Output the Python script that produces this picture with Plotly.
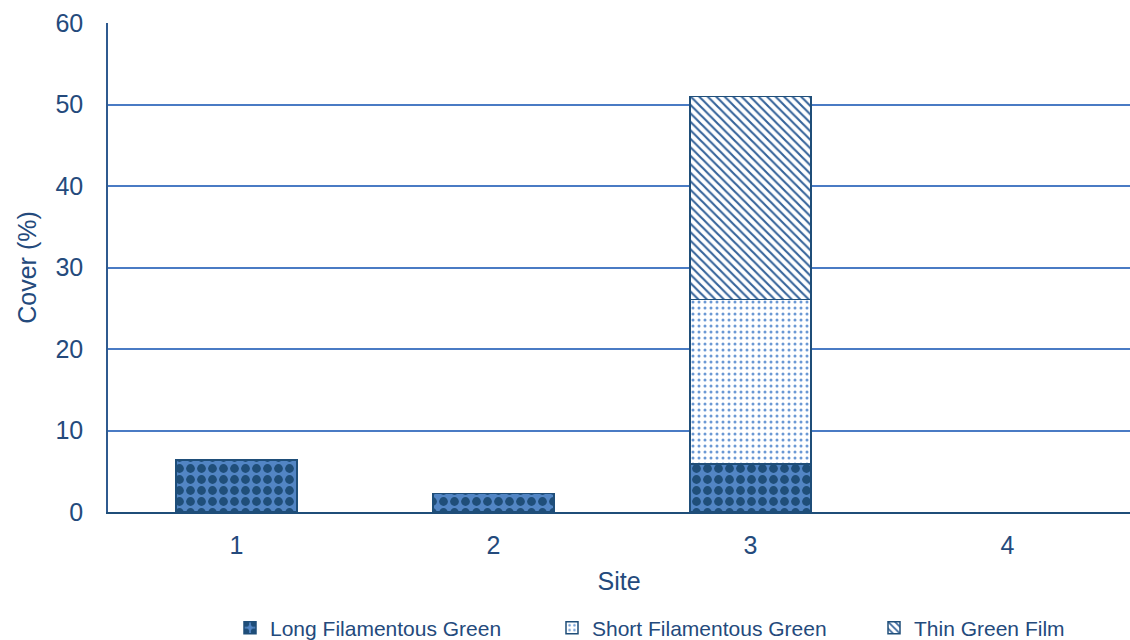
import plotly.graph_objects as go

# Algal cover by site (%)
sites = ["1", "2", "3", "4"]
long_filamentous = [6.4, 2.3, 5.9, None]
short_filamentous = [None, None, 20.2, None]
thin_green_film = [None, None, 24.9, None]

y_ticks = [0, 10, 20, 30, 40, 50, 60]

NAVY = "#1F4E79"
TEXT = "#244A7C"
GRID = "#4A7BC4"
FONT = "Liberation Sans, Arial, sans-serif"

fig = go.Figure()

fig.add_trace(go.Bar(
    name="Long Filamentous Green",
    x=sites, y=long_filamentous,
    marker=dict(
        color="#4F81BD",
        line=dict(color=NAVY, width=1.5),
        pattern=dict(shape=".", fgcolor=NAVY, bgcolor="#5285C4",
                     size=11, solidity=0.5, fillmode="replace"),
    ),
))
fig.add_trace(go.Bar(
    name="Short Filamentous Green",
    x=sites, y=short_filamentous,
    marker=dict(
        color="white",
        line=dict(color=NAVY, width=1.5),
        pattern=dict(shape=".", fgcolor="#6A98D4", bgcolor="white",
                     size=6, solidity=0.2, fillmode="replace"),
    ),
))
fig.add_trace(go.Bar(
    name="Thin Green Film",
    x=sites, y=thin_green_film,
    marker=dict(
        color="white",
        line=dict(color=NAVY, width=1.5),
        pattern=dict(shape="\\", fgcolor="#35639A", bgcolor="white",
                     size=6, solidity=0.35, fillmode="replace"),
    ),
))

fig.update_layout(
    width=1130, height=640,
    barmode="stack",
    bargap=0.53,
    plot_bgcolor="white",
    paper_bgcolor="white",
    margin=dict(l=108, r=0, t=23, b=128),
    font=dict(family=FONT, color=TEXT, size=25),
    showlegend=True,
    legend=dict(
        orientation="h",
        xref="container", x=230 / 1130, xanchor="left",
        yref="container", y=12 / 640, yanchor="middle",
        font=dict(size=21, color=TEXT),
        itemwidth=30,
        entrywidth=277,
        entrywidthmode="pixels",
        traceorder="normal",
        bgcolor="rgba(0,0,0,0)",
    ),
    xaxis=dict(
        type="category",
        range=[-0.5, 3.477],
        showgrid=False,
        showline=True, linecolor=NAVY, linewidth=2,
        ticks="",
        ticklabelstandoff=10,
        tickfont=dict(size=25, color=TEXT),
        title=dict(text="Site", font=dict(size=25, color=TEXT), standoff=14),
        fixedrange=True,
    ),
    yaxis=dict(
        range=[0, 60],
        tickvals=y_ticks,
        showgrid=True, gridcolor=GRID, gridwidth=1.5,
        showline=True, linecolor="#2F5A8F", linewidth=1.5,
        zeroline=False,
        ticks="",
        ticklabelstandoff=18,
        tickfont=dict(size=25, color=TEXT),
        title=dict(text="Cover (%)", font=dict(size=25, color=TEXT), standoff=12),
    ),
)

fig.write_html("out.html")
